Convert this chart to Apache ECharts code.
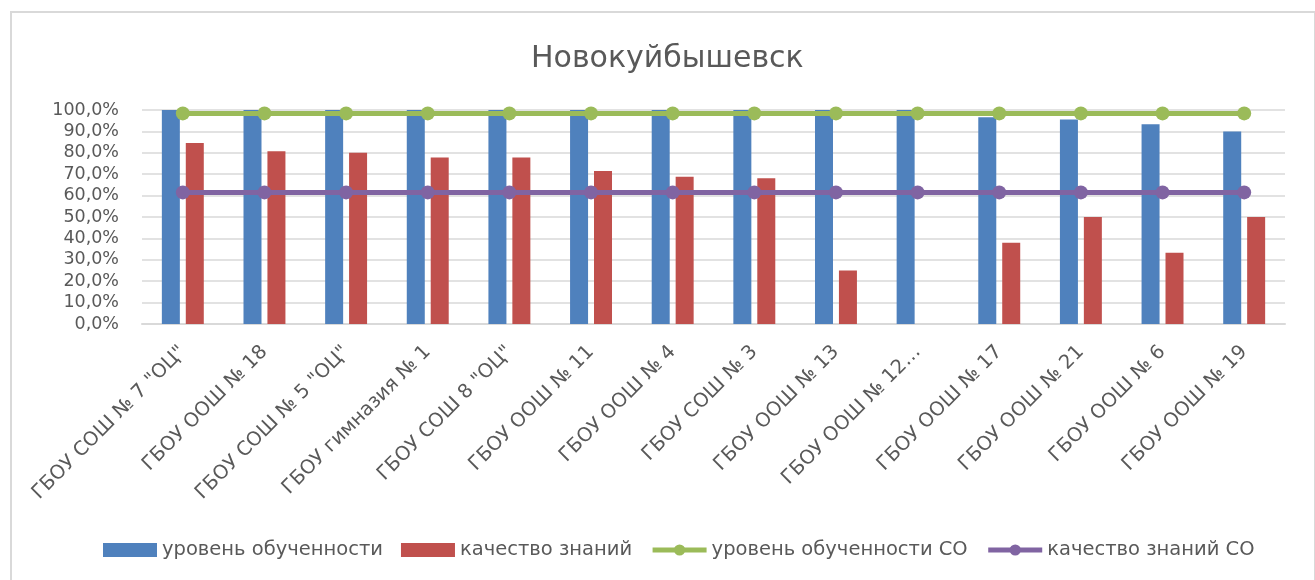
<!DOCTYPE html>
<html>
  <head>
    <meta charset="utf-8">
    <title>Новокуйбышевск</title>
    <script src="https://cdn.jsdelivr.net/npm/echarts@6/dist/echarts.min.js"></script>
    <style>
      body { margin: 0; background: #fff; }
      #frame {
        position: absolute; left: 10px; top: 11px;
        width: 1302px; height: 580px;
        border-left: 2px solid #d9d9d9; border-top: 2px solid #d9d9d9; border-right: 2px solid #d9d9d9;
      }
      #main { position: absolute; left: 0; top: 0; width: 1315px; height: 580px; }
    </style>
  </head>
  <body>
    <div id="frame"></div>
    <div id="main"></div>
    <script>
      // школы
      var schools = ['ГБОУ СОШ № 7 "ОЦ"', 'ГБОУ ООШ № 18', 'ГБОУ СОШ № 5 "ОЦ"', 'ГБОУ гимназия № 1',
        'ГБОУ СОШ 8 "ОЦ"', 'ГБОУ ООШ № 11', 'ГБОУ ООШ № 4', 'ГБОУ СОШ № 3', 'ГБОУ ООШ № 13',
        'ГБОУ ООШ № 12…', 'ГБОУ ООШ № 17', 'ГБОУ ООШ № 21', 'ГБОУ ООШ № 6', 'ГБОУ ООШ № 19'];
      var level = [1, 1, 1, 1, 1, 1, 1, 1, 1, 1, 0.966, 0.956, 0.933, 0.90];
      var quality = [0.846, 0.807, 0.80, 0.778, 0.778, 0.715, 0.688, 0.681, 0.25, 0, 0.38, 0.50, 0.333, 0.50];
      var levelCO = [0.984, 0.984, 0.984, 0.984, 0.984, 0.984, 0.984, 0.984, 0.984, 0.984, 0.984, 0.984, 0.984, 0.984];
      var qualityCO = [0.615, 0.615, 0.615, 0.615, 0.615, 0.615, 0.615, 0.615, 0.615, 0.615, 0.615, 0.615, 0.615, 0.615];

      var font = 'DejaVu Sans';
      var grey = '#595959';

      var chart = echarts.init(document.getElementById('main'));
      chart.setOption({
        animation: false,
        title: {
          text: 'Новокуйбышевск', left: 526, top: 39,
          textStyle: { fontFamily: font, fontSize: 30, fontWeight: 'normal', color: grey }
        },
        legend: {
          bottom: 15, left: 98, itemWidth: 54, itemHeight: 14, itemGap: 18,
          textStyle: { fontFamily: font, fontSize: 19.5, color: grey },
          data: [
            { name: 'уровень обученности', icon: 'rect' },
            { name: 'качество знаний', icon: 'rect' },
            { name: 'уровень обученности СО', lineStyle: { width: 5 } },
            { name: 'качество знаний СО', lineStyle: { width: 5 } }
          ]
        },
        grid: { left: 142, right: 30, top: 110, bottom: 256, containLabel: false },
        xAxis: {
          type: 'category', data: schools,
          axisLine: { lineStyle: { color: '#d9d9d9', width: 2 } },
          axisTick: { show: false },
          axisLabel: { rotate: 45, interval: 0, margin: 25, fontFamily: font, fontSize: 19.5, color: grey }
        },
        yAxis: {
          type: 'value', min: 0, max: 1, interval: 0.1,
          axisLine: { show: false }, axisTick: { show: false },
          splitLine: { lineStyle: { color: '#d9d9d9', width: 1.5 } },
          axisLabel: {
            margin: 23, fontFamily: font, fontSize: 17.5, color: grey,
            formatter: function (v) { return (v * 100).toFixed(1).replace('.', ',') + '%'; }
          }
        },
        series: [
          { name: 'уровень обученности', type: 'bar', data: level, barWidth: 18, barGap: '33%',
            itemStyle: { color: '#4F81BD' } },
          { name: 'качество знаний', type: 'bar', data: quality, barWidth: 18,
            itemStyle: { color: '#C0504D' } },
          { name: 'уровень обученности СО', type: 'line', data: levelCO, symbol: 'circle', symbolSize: 14,
            lineStyle: { color: '#9BBB59', width: 5 }, itemStyle: { color: '#9BBB59' } },
          { name: 'качество знаний СО', type: 'line', data: qualityCO, symbol: 'circle', symbolSize: 14,
            lineStyle: { color: '#8064A2', width: 5 }, itemStyle: { color: '#8064A2' } }
        ]
      });
    </script>
  </body>
</html>
